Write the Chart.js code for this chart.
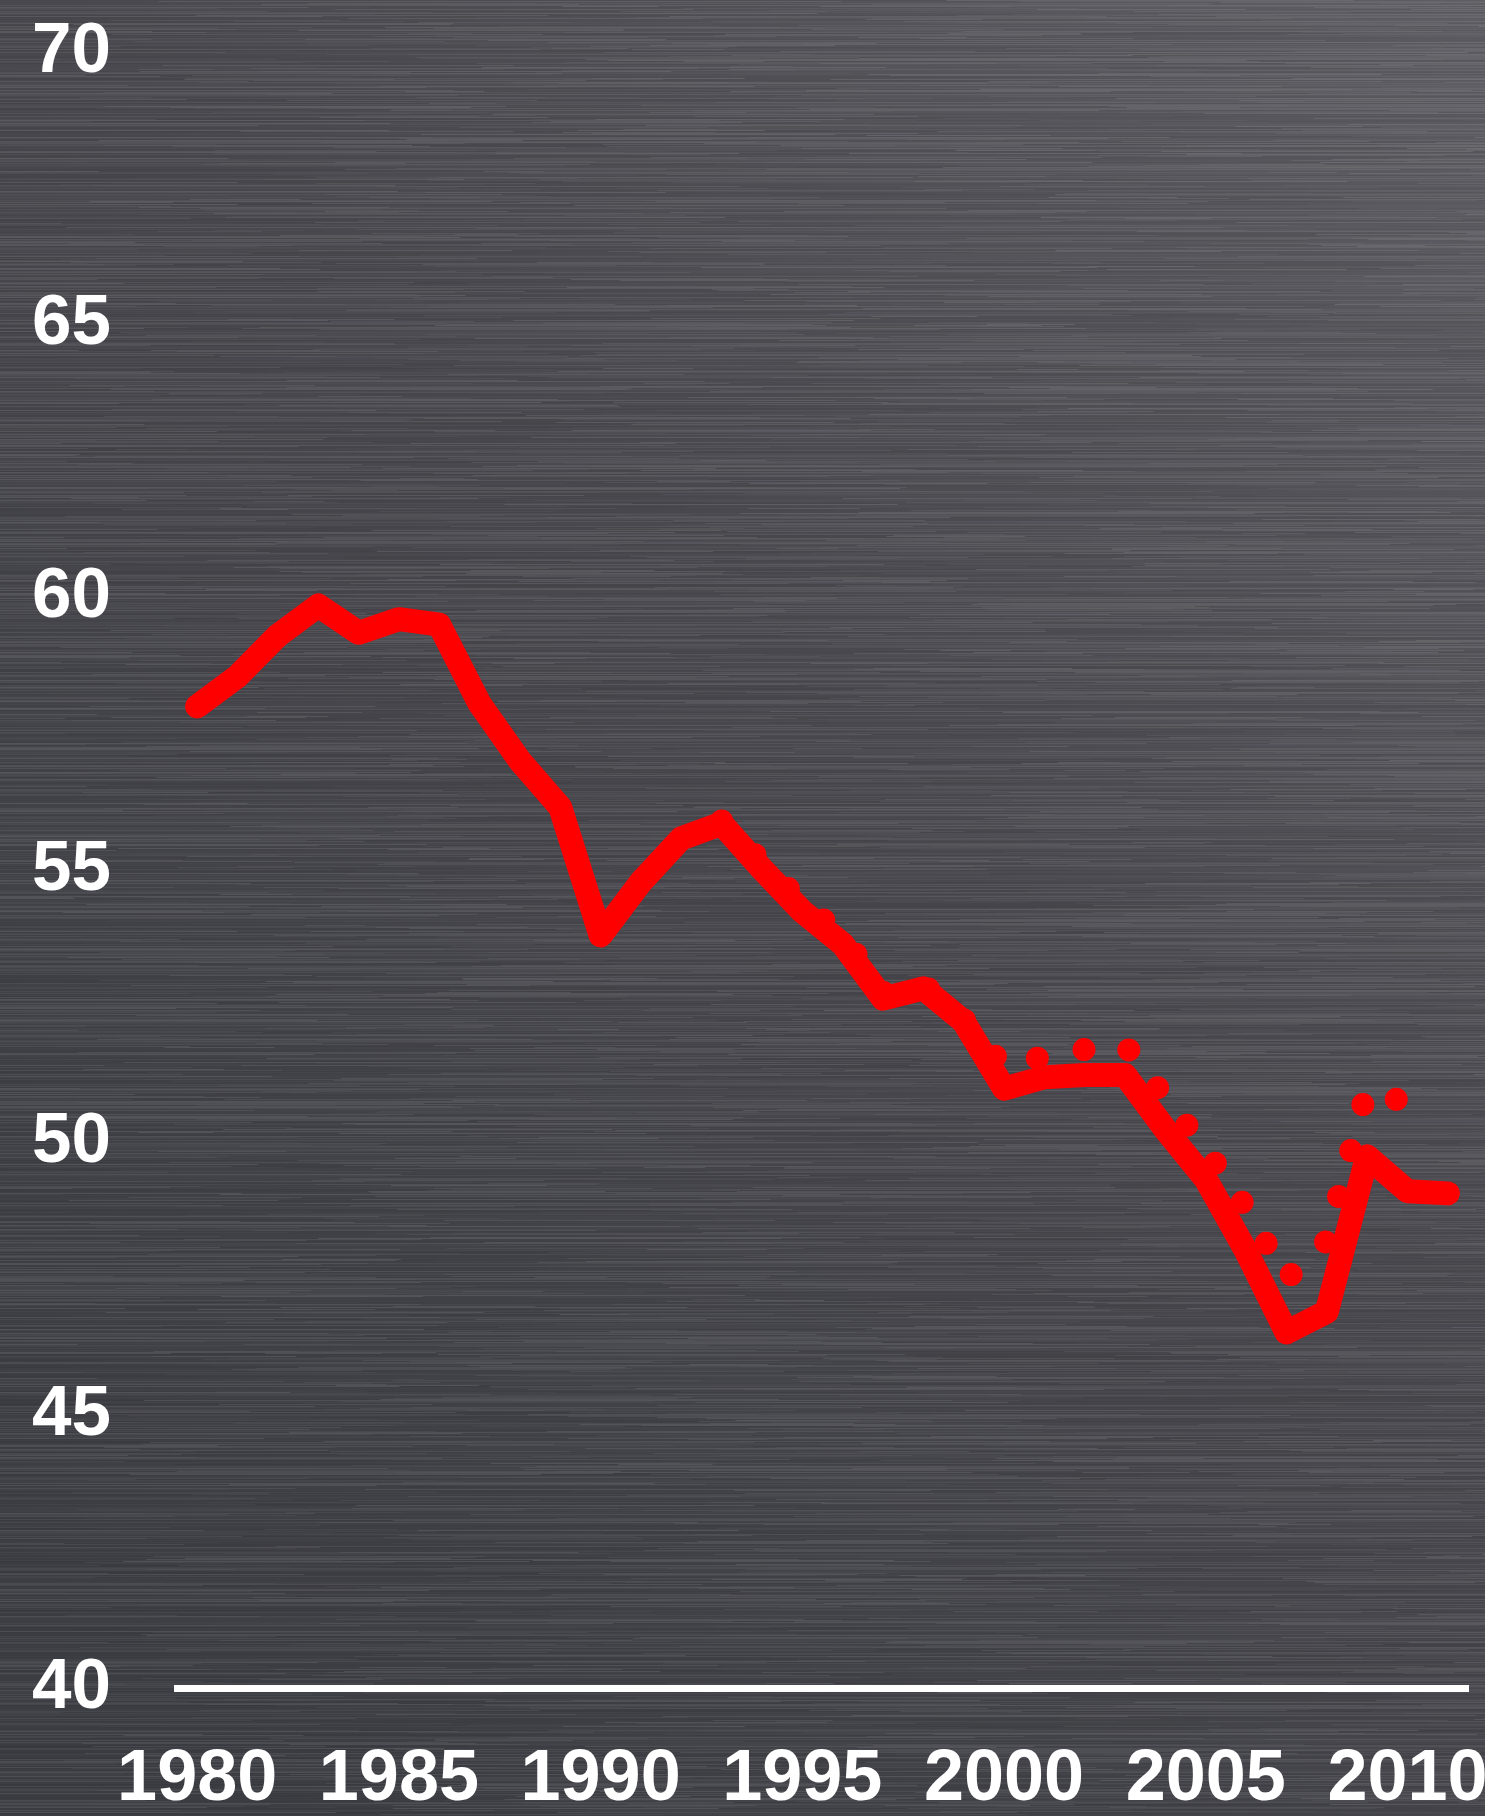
<!DOCTYPE html>
<html>
<head>
<meta charset="utf-8">
<title>Line chart</title>
<script src="https://cdn.jsdelivr.net/npm/chart.js@4.4.0/dist/chart.umd.min.js"></script>
<style>
  html, body { margin: 0; padding: 0; background: #4a4a50; }
  #wrap { width: 1485px; height: 1816px; }
</style>
</head>
<body>
<div id="wrap"><canvas id="myChart"></canvas></div>
<script>
const years = [1980, 1981, 1982, 1983, 1984, 1985, 1986, 1987, 1988, 1989,
               1990, 1991, 1992, 1993, 1994, 1995, 1996, 1997, 1998, 1999,
               2000, 2001, 2002, 2003, 2004, 2005, 2006, 2007, 2008, 2009,
               2010, 2011];

// solid series
const mainValues = [58.0, 58.55, 59.3, 59.85, 59.35, 59.6, 59.5, 58.05, 57.0, 56.15,
                    53.8, 54.78, 55.58, 55.85, 55.02, 54.24, 53.64, 52.64, 52.83, 52.22,
                    50.99, 51.2, 51.24, 51.24, 50.24, 49.33, 48.01, 46.52, 46.9, 49.75,
                    49.11, 49.07];

// dotted series (starts in 1993, ends in 2010)
const dottedValues = [null, null, null, null, null, null, null, null, null, null,
                      null, null, null, 55.9, 55.15, 54.4, 53.8, 52.75, 52.9, 52.26,
                      51.4, 51.58, 51.71, 51.79, 50.82, 49.88, 48.8, 47.5, 48.2, 50.99,
                      50.72, null];

const yTicks = [40, 45, 50, 55, 60, 65, 70];
const xTickYears = [1980, 1985, 1990, 1995, 2000, 2005, 2010];

// brushed metal backdrop
const brushedBackground = {
    id: 'brushedBackground',
    beforeDraw(chart) {
        const ctx = chart.ctx;
        const w = chart.width, h = chart.height;
        ctx.save();
        const g = ctx.createLinearGradient(w, 0, 0, h * 0.85);
        g.addColorStop(0, '#606066');
        g.addColorStop(0.45, '#4b4b51');
        g.addColorStop(1, '#3e3f45');
        ctx.fillStyle = g;
        ctx.fillRect(0, 0, w, h);

        let seed = 12345;
        const rnd = () => {
            seed = (seed * 1103515245 + 12345) % 2147483648;
            return seed / 2147483648;
        };
        for (let y = 0; y < h; y++) {
            let x = 0;
            while (x < w) {
                const len = 60 + rnd() * 420;
                const a = rnd() * 0.09;
                ctx.fillStyle = rnd() < 0.5 ? 'rgba(255,255,255,' + a + ')' : 'rgba(0,0,0,' + a + ')';
                ctx.fillRect(x, y, len, 1);
                x += len;
            }
        }
        ctx.restore();
    }
};

const labelFont = { family: "'Liberation Sans', Arial, sans-serif", size: 72, weight: 'bold' };

const getChart = document.getElementById('myChart').getContext('2d');
const mychart = new Chart(getChart, {
    type: 'line',
    data: {
        labels: years,
        datasets: [{
            label: 'Solid',
            data: mainValues,
            borderColor: '#ff0000',
            borderWidth: 24,
            borderCapStyle: 'round',
            borderJoinStyle: 'round',
            pointRadius: 0,
            tension: 0,
            fill: false,
            order: 0
        }, {
            label: 'Dotted',
            data: dottedValues,
            borderColor: '#ff0000',
            borderWidth: 23,
            borderCapStyle: 'round',
            borderJoinStyle: 'round',
            borderDash: [0, 47.5],
            pointRadius: 0,
            tension: 0,
            fill: false,
            order: 1
        }]
    },
    options: {
        responsive: true,
        maintainAspectRatio: false,
        animation: false,
        layout: {
            padding: { top: 0, right: 17, left: 0, bottom: 0 }
        },
        scales: {
            x: {
                offset: true,
                grid: { display: false, drawTicks: false },
                border: { display: true, color: '#ffffff', width: 7 },
                ticks: {
                    autoSkip: false,
                    maxRotation: 0,
                    color: '#ffffff',
                    font: labelFont,
                    padding: 49,
                    callback: function (value) {
                        const yr = this.getLabelForValue(value);
                        return xTickYears.includes(yr) ? String(yr) : '';
                    }
                },
                afterFit: (scale) => {
                    scale.height = 128;
                    scale.paddingLeft = 0;
                    scale.paddingRight = 0;
                }
            },
            y: {
                min: 40,
                max: 70,
                grid: { display: false, drawTicks: false },
                border: { display: false },
                afterBuildTicks: (scale) => {
                    scale.ticks = yTicks.map(v => ({ value: v }));
                },
                ticks: {
                    color: '#ffffff',
                    font: { family: "'Liberation Sans', Arial, sans-serif", size: 71, weight: 'bold' },
                    padding: 66
                },
                afterFit: (scale) => {
                    scale.width = 177;
                    scale.paddingTop = 52;
                    scale.paddingBottom = 0;
                }
            }
        },
        plugins: {
            legend: { display: false },
            tooltip: { enabled: false },
            title: { display: false }
        }
    },
    plugins: [brushedBackground]
});
</script>
</body>
</html>
